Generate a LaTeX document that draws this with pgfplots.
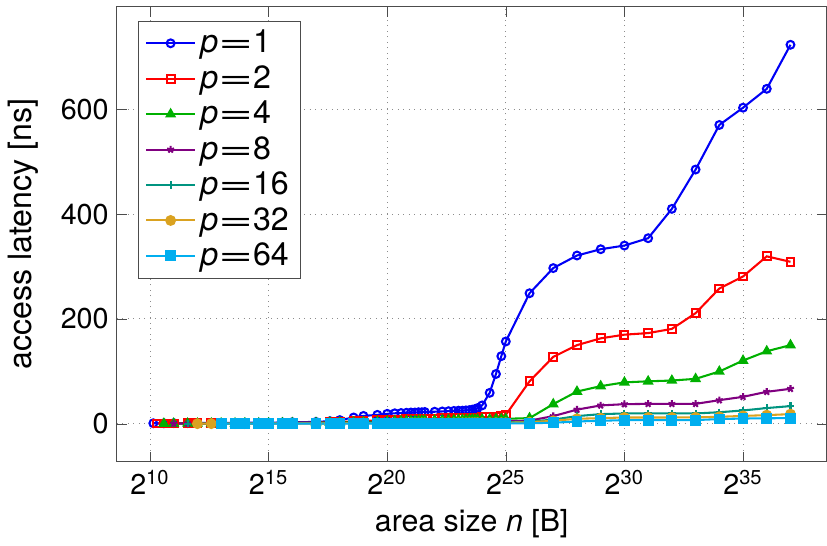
\documentclass[border=0pt]{standalone}
\usepackage{pgfplots}
\pgfplotsset{compat=1.18}
\usepackage{graphicx}
\usepackage{fontspec}
\setmainfont{TeX Gyre Heros}
\definecolor{cA}{RGB}{0,0,245}
\definecolor{cB}{RGB}{255,0,0}
\definecolor{cC}{RGB}{0,176,0}
\definecolor{cD}{RGB}{128,0,128}
\definecolor{cE}{RGB}{0,148,128}
\definecolor{cF}{RGB}{218,162,32}
\definecolor{cG}{RGB}{0,174,239}
\newcommand{\peq}[1]{\textit{p}\scalebox{1.85}[1]{=}#1}
\begin{document}
\begin{tikzpicture}
\begin{axis}[
  scale only axis, width=309pt, height=198pt,
  xmin=8.6, xmax=38.52, ymin=-72.3, ymax=795.3,
  xtick={10,15,20,25,30,35},
  xticklabels={2\textsuperscript{10},2\textsuperscript{15},2\textsuperscript{20},2\textsuperscript{25},2\textsuperscript{30},2\textsuperscript{35}},
  ytick={0,200,400,600},
  grid=major, grid style={dotted, black!45},
  axis line style={black!70}, tick style={black!70},
  xlabel={area size \textit{n} [B]}, ylabel={access latency [ns]},
  ylabel shift=3pt,
  /pgf/number format/assume math mode=true,
  tick label style={font=\fontsize{12.5}{14}\selectfont},
  ylabel style={font=\fontsize{14}{16}\selectfont},
  xlabel style={font=\fontsize{13.2}{15}\selectfont},
  legend pos=north west,
  legend style={draw=black!70, font=\fontsize{14}{16}\selectfont, cells={anchor=west}},
  legend image code/.code={\draw[mark repeat=2,mark phase=2] plot coordinates {(0cm,0cm)(0.37cm,0cm)(0.74cm,0cm)};},
  every axis plot/.append style={line width=0.9pt},
]
\addplot[cA, mark=o, mark size=1.7pt] coordinates {
(10.14,1)(10.585,1)(11,1.2)(11.585,1.3)(12,1.4)(12.585,1.5)(13,1.6)(13.585,1.8)(14,2)(14.585,2)(15,2.2)(15.585,2.5)(16,3)(17,3.5)(17.585,5)(18,7)(18.585,12)(19,15)(19.585,17)(20,19)(20.32,20)(20.585,20.5)(20.81,21)(21,21.5)(21.17,21.5)(21.32,22)(21.46,22)(21.585,22.5)(22,23)(22.32,23.5)(22.585,24)(22.81,24.5)(23,25)(23.17,25)(23.32,25.5)(23.46,26)(23.585,27)(23.7,28)(23.81,30)(24,35)(24.32,59)(24.585,95)(24.81,129)(25,157)(26,249)(27,297)(28,321)(29,333)(30,340)(31,354)(32,410)(33,485)(34,570)(35,603)(36,639)(37,723)};
\addlegendentry{\peq{1}}
\addplot[cB, mark=square, mark size=1.7pt] coordinates {
(10.3,0.5)(10.585,0.5)(11,0.6)(11.585,0.7)(12,0.8)(12.585,0.9)(13,1)(13.585,1)(14,1.1)(14.585,1.2)(15,1.3)(15.585,1.5)(16,1.8)(17,2.3)(17.585,2.8)(18,3.5)(18.585,4.5)(19,5.5)(19.585,6.5)(20,7)(20.32,7.5)(20.585,8)(20.81,8.5)(21,9)(21.17,9)(21.32,9.5)(21.46,9.5)(21.585,10)(22,10)(22.32,10.5)(22.585,10.5)(22.81,11)(23,11)(23.17,11)(23.32,11.5)(23.46,11.5)(23.585,12)(23.7,12)(23.81,12)(24,12.5)(24.32,13)(24.585,13.5)(24.81,15)(25,17)(26,81)(27,127.6)(28,150)(29,163)(30,170)(31,173)(32,181)(33,211)(34,258)(35,281)(36,319.4)(37,309)};
\addlegendentry{\peq{2}}
\addplot[cC, mark=triangle*, mark size=1.9pt] coordinates {
(10.585,0.3)(11,0.4)(11.585,0.5)(12,0.6)(12.585,0.7)(13,0.8)(13.585,0.9)(14,1)(14.585,1)(15,1.1)(15.585,1.2)(16,1.4)(17,1.8)(17.585,2.2)(18,2.6)(18.585,3)(19,3.5)(19.585,4)(20,4.5)(20.32,5)(20.585,5)(20.81,5.5)(21,5.5)(21.17,6)(21.32,6)(21.46,6)(21.585,6.5)(22,6.5)(22.32,7)(22.585,7)(22.81,7)(23,7.5)(23.17,7.5)(23.32,7.5)(23.46,8)(23.585,8)(23.7,8)(23.81,8)(24,8.5)(24.32,8.5)(24.585,9)(24.81,9)(25,9.5)(26,10.8)(27,37.5)(28,61.5)(29,71.8)(30,79)(31,81)(32,82.5)(33,85.7)(34,99.7)(35,120.6)(36,138.4)(37,150)};
\addlegendentry{\peq{4}}
\addplot[cD, mark=star, mark size=1.6pt] coordinates {
(11,0.3)(11.585,0.4)(12,0.5)(12.585,0.5)(13,0.6)(13.585,0.7)(14,0.8)(14.585,0.8)(15,0.9)(15.585,1)(16,1.1)(17,1.3)(17.585,1.5)(18,1.7)(18.585,2)(19,2.2)(19.585,2.5)(20,2.7)(20.32,2.8)(20.585,3)(20.81,3)(21,3.2)(21.17,3.2)(21.32,3.3)(21.46,3.4)(21.585,3.5)(22,3.6)(22.32,3.7)(22.585,3.8)(22.81,3.9)(23,4)(23.17,4)(23.32,4.1)(23.46,4.2)(23.585,4.3)(23.7,4.4)(23.81,4.5)(24,4.6)(24.32,4.7)(24.585,4.8)(24.81,4.9)(25,5)(26,6)(27,14.6)(28,27)(29,35)(30,37.4)(31,38)(32,38)(33,38)(34,45)(35,51.4)(36,61)(37,66.7)};
\addlegendentry{\peq{8}}
\addplot[cE, mark=+, mark size=1.6pt] coordinates {
(11.585,0.3)(12,0.3)(12.585,0.4)(13,0.4)(13.585,0.5)(14,0.5)(14.585,0.6)(15,0.6)(15.585,0.7)(16,0.8)(17,0.9)(17.585,1)(18,1.1)(18.585,1.3)(19,1.4)(19.585,1.5)(20,1.6)(20.32,1.7)(20.585,1.8)(20.81,1.8)(21,1.9)(21.17,1.9)(21.32,2)(21.46,2)(21.585,2.1)(22,2.1)(22.32,2.2)(22.585,2.3)(22.81,2.4)(23,2.4)(23.17,2.5)(23.32,2.5)(23.46,2.6)(23.585,2.6)(23.7,2.7)(23.81,2.8)(24,2.8)(24.32,2.9)(24.585,3)(24.81,3)(25,3)(26,4)(27,8)(28,14.6)(29,18.4)(30,19.7)(31,19.7)(32,19.7)(33,19.7)(34,22)(35,25.4)(36,30)(37,33.7)};
\addlegendentry{\peq{16}}
\addplot[cF, mark=*, mark size=1.9pt] coordinates {
(12,0.2)(12.585,0.3)(13,0.3)(13.585,0.4)(14,0.4)(14.585,0.5)(15,0.5)(15.585,0.5)(16,0.6)(17,0.7)(17.585,0.8)(18,0.9)(18.585,1)(19,1.1)(19.585,1.2)(20,1.3)(20.32,1.3)(20.585,1.4)(20.81,1.4)(21,1.5)(21.17,1.5)(21.32,1.5)(21.46,1.6)(21.585,1.6)(22,1.6)(22.32,1.7)(22.585,1.7)(22.81,1.7)(23,1.8)(23.17,1.8)(23.32,1.8)(23.46,1.9)(23.585,1.9)(23.7,1.9)(23.81,2)(24,2)(24.32,2)(24.585,2)(24.81,2)(25,2)(26,3)(27,5.7)(28,9.5)(29,10.8)(30,12)(31,12)(32,12)(33,12.2)(34,13.3)(35,15)(36,16.5)(37,18.4)};
\addlegendentry{\peq{32}}
\addplot[cG, mark=square*, mark size=1.9pt] coordinates {
(13,0.2)(13.585,0.2)(14,0.2)(14.585,0.3)(15,0.3)(15.585,0.3)(16,0.3)(17,0.4)(17.585,0.4)(18,0.4)(18.585,0.5)(19,0.5)(19.585,0.5)(20,0.5)(20.32,0.5)(20.585,0.5)(20.81,0.5)(21,0.5)(21.17,0.5)(21.32,0.5)(21.46,0.5)(21.585,0.5)(22,0.5)(22.32,0.5)(22.585,0.5)(22.81,0.5)(23,0.5)(23.17,0.5)(23.32,0.5)(23.46,0.5)(23.585,0.5)(23.7,0.5)(23.81,0.5)(24,0.5)(24.32,0.5)(24.585,0.6)(24.81,0.6)(25,0.6)(26,1)(27,2)(28,4.4)(29,5.7)(30,7)(31,7)(32,7)(33,7)(34,9)(35,10)(36,10.5)(37,10.8)};
\addlegendentry{\peq{64}}
\end{axis}
\path ([yshift=3pt]current axis.north);
\end{tikzpicture}
\end{document}
